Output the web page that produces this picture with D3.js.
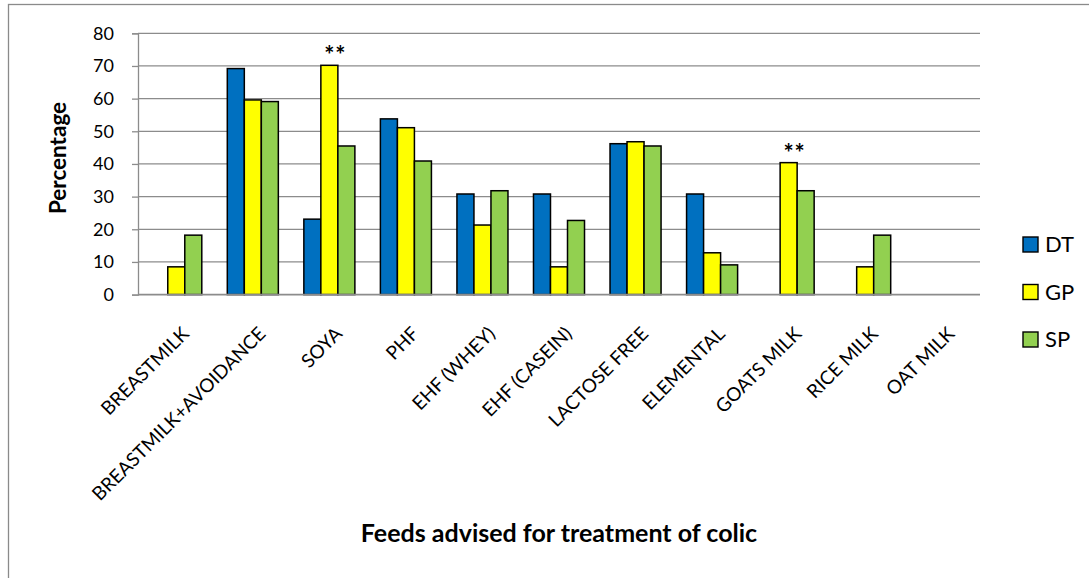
<!DOCTYPE html>
<html>
<head>
<meta charset="utf-8">
<script src="https://cdn.jsdelivr.net/npm/d3@7"></script>
<style>
  html, body { margin: 0; padding: 0; background: #ffffff; }
  svg { display: block; font-family: Lato, "Open Sans", sans-serif; }
</style>
</head>
<body>
<svg id="chart" width="1089" height="578"></svg>
<script>
// Feeds advised for colic, percentage of respondents in each professional group
const categories = ["BREASTMILK", "BREASTMILK+AVOIDANCE", "SOYA", "PHF", "EHF (WHEY)",
  "EHF (CASEIN)", "LACTOSE FREE", "ELEMENTAL", "GOATS MILK", "RICE MILK", "OAT MILK"];
const seriesNames = ["DT", "GP", "SP"];
const dtValues = [0, 69.2, 23.1, 53.8, 30.8, 30.8, 46.2, 30.8, 0, 0, 0];
const gpValues = [8.5, 59.6, 70.2, 51.1, 21.3, 8.5, 46.8, 12.8, 40.4, 8.5, 0];
const spValues = [18.2, 59.1, 45.5, 40.9, 31.8, 22.7, 45.5, 9.1, 31.8, 18.2, 0];
const yTicks = [0, 10, 20, 30, 40, 50, 60, 70, 80];
// categories flagged as significant, marked above the GP bar
const starred = ["SOYA", "GOATS MILK"];

const seriesValues = { DT: dtValues, GP: gpValues, SP: spValues };
const colors = { DT: "#0070C0", GP: "#FFFF00", SP: "#92D050" };

const svg = d3.select("#chart");

// outer chart frame
svg.append("rect")
  .attr("x", 8.5).attr("y", 4.5)
  .attr("width", 1200).attr("height", 700)
  .attr("fill", "none").attr("stroke", "#8a8a8a").attr("stroke-width", 1.3);

const plot = { left: 138, right: 980, top: 33.3, bottom: 294.6 };

const y = d3.scaleLinear().domain([0, 80]).range([plot.bottom, plot.top]);
const x0 = d3.scaleBand().domain(categories).range([plot.left, plot.right])
  .paddingInner(0).paddingOuter(0);
const x1 = d3.scaleBand().domain(seriesNames).range([0, x0.bandwidth()])
  .paddingInner(0).paddingOuter(0.75);

// horizontal gridlines
svg.append("g")
  .selectAll("line")
  .data(yTicks.filter(t => t > 0))
  .join("line")
  .attr("x1", plot.left).attr("x2", plot.right)
  .attr("y1", d => y(d)).attr("y2", d => y(d))
  .attr("stroke", "#8c8c8c").attr("stroke-width", 1.3);

// value axis
const yAxis = svg.append("g")
  .attr("transform", `translate(${plot.left},0)`)
  .call(d3.axisLeft(y).tickValues(yTicks).tickSize(6).tickPadding(18));
yAxis.select(".domain").attr("stroke", "#8c8c8c").attr("stroke-width", 1.3);
yAxis.selectAll(".tick line").attr("stroke", "#8c8c8c").attr("stroke-width", 1.3);
yAxis.selectAll(".tick text")
  .attr("font-family", "Lato, sans-serif")
  .attr("font-size", 18).attr("fill", "#000");

// bars
const rows = categories.map((c, i) => ({
  cat: c,
  bars: seriesNames.map(s => ({ series: s, value: seriesValues[s][i] }))
}));

const groups = svg.append("g").selectAll("g")
  .data(rows)
  .join("g")
  .attr("transform", d => `translate(${x0(d.cat)},0)`);

groups.selectAll("rect")
  .data(d => d.bars.filter(b => b.value > 0))
  .join("rect")
  .attr("x", d => x1(d.series))
  .attr("y", d => y(d.value))
  .attr("width", x1.bandwidth())
  .attr("height", d => y(0) - y(d.value))
  .attr("fill", d => colors[d.series])
  .attr("stroke", "#000").attr("stroke-width", 1.5);

// category axis line
svg.append("line")
  .attr("x1", plot.left).attr("x2", plot.right)
  .attr("y1", y(0)).attr("y2", y(0))
  .attr("stroke", "#8c8c8c").attr("stroke-width", 1.6);

// rotated category labels
svg.append("g").selectAll("text")
  .data(categories)
  .join("text")
  .attr("transform", d => {
    const cx = x0(d) + x0.bandwidth() / 2 + 14;
    return `translate(${cx},335) rotate(-45)`;
  })
  .attr("text-anchor", "end")
  .attr("font-size", 19)
  .attr("fill", "#000")
  .text(d => d);

// significance markers
svg.append("g").selectAll("text")
  .data(starred)
  .join("text")
  .attr("x", d => x0(d) + x1("GP") + x1.bandwidth() / 2 + 6)
  .attr("y", d => y(gpValues[categories.indexOf(d)]) - 1)
  .attr("text-anchor", "middle")
  .attr("font-size", 24).attr("font-weight", "bold")
  .attr("letter-spacing", 1)
  .attr("fill", "#000")
  .text("**");

// axis titles
svg.append("text")
  .attr("transform", `translate(66,158) rotate(-90)`)
  .attr("text-anchor", "middle")
  .attr("font-size", 22.5).attr("font-weight", "bold")
  .attr("fill", "#000")
  .text("Percentage");

svg.append("text")
  .attr("x", (plot.left + plot.right) / 2).attr("y", 542)
  .attr("text-anchor", "middle")
  .attr("font-size", 25).attr("font-weight", "bold")
  .attr("fill", "#000")
  .text("Feeds advised for treatment of colic");

// legend
const legend = svg.append("g").selectAll("g")
  .data(seriesNames)
  .join("g")
  .attr("transform", (d, i) => `translate(1023,${237 + i * 47.5})`);
legend.append("rect")
  .attr("width", 15).attr("height", 15)
  .attr("fill", d => colors[d])
  .attr("stroke", "#000").attr("stroke-width", 1.4);
legend.append("text")
  .attr("x", 22).attr("y", 7.5).attr("dy", "0.36em")
  .attr("font-size", 22).attr("fill", "#000")
  .text(d => d);
</script>
</body>
</html>
